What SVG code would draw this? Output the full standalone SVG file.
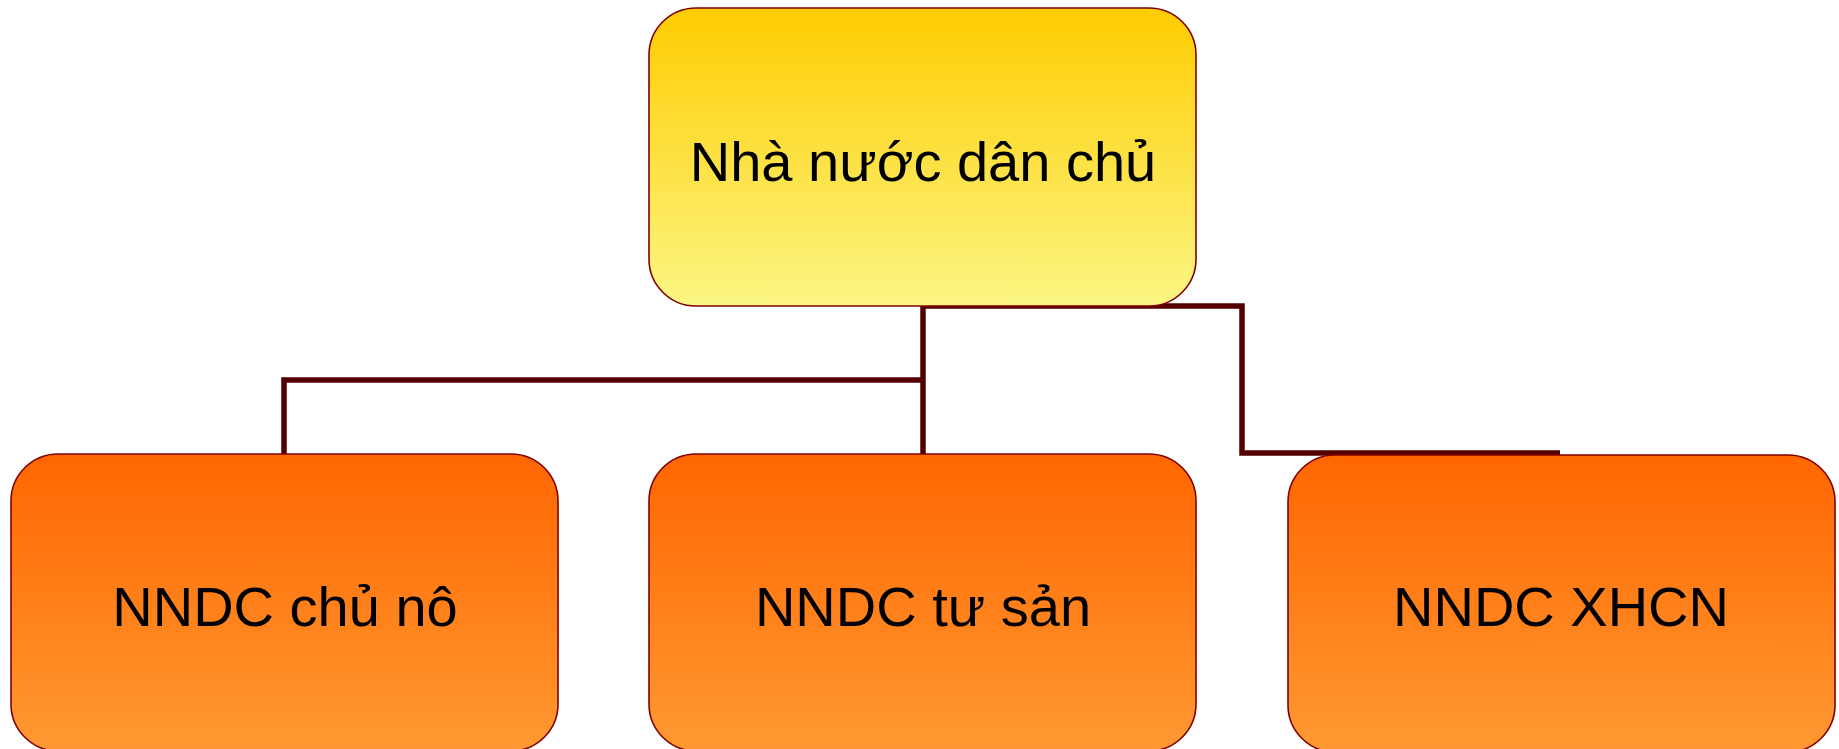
<svg xmlns="http://www.w3.org/2000/svg" width="1839" height="749" viewBox="0 0 1839 749">
  <defs>
    <linearGradient id="gTop" x1="0" y1="0" x2="0" y2="1">
      <stop offset="0" stop-color="#ffcc00"/>
      <stop offset="1" stop-color="#fbf684"/>
    </linearGradient>
    <linearGradient id="gBot" x1="0" y1="0" x2="0" y2="1">
      <stop offset="0" stop-color="#ff6600"/>
      <stop offset="1" stop-color="#ff9933"/>
    </linearGradient>
  </defs>
  <style>
    .box { stroke: #800000; stroke-width: 1.6; }
    .top { fill: url(#gTop); }
    .bot { fill: url(#gBot); }
    .lbl { font-family: "Liberation Sans", Arial, sans-serif; font-size: 56px; fill: #000000; text-anchor: middle; }
    .conn { fill: none; stroke: #550000; stroke-width: 5.5; stroke-linejoin: miter; stroke-linecap: butt; }
  </style>
  <rect width="1839" height="749" fill="#ffffff"/>
  <g id="connectors">
    <polyline class="conn" points="923,306 923,454"/>
    <polyline class="conn" points="923,380 284,380 284,454"/>
    <polyline class="conn" points="923,306 1242,306 1242,453 1560,453"/>
  </g>
  <g id="node-top">
    <rect class="box top" x="649" y="8" width="547" height="298" rx="47" ry="47"/>
    <text class="lbl" x="923" y="181">Nhà nước dân chủ</text>
  </g>
  <g id="node-chuno">
    <rect class="box bot" x="11" y="454" width="547" height="297" rx="47" ry="47"/>
    <text class="lbl" x="285" y="626">NNDC chủ nô</text>
  </g>
  <g id="node-tusan">
    <rect class="box bot" x="649" y="454" width="547" height="297" rx="47" ry="47"/>
    <text class="lbl" x="923" y="626">NNDC tư sản</text>
  </g>
  <g id="node-xhcn">
    <rect class="box bot" x="1288" y="455" width="547" height="297" rx="47" ry="47"/>
    <text class="lbl" x="1561" y="626">NNDC XHCN</text>
  </g>
</svg>
